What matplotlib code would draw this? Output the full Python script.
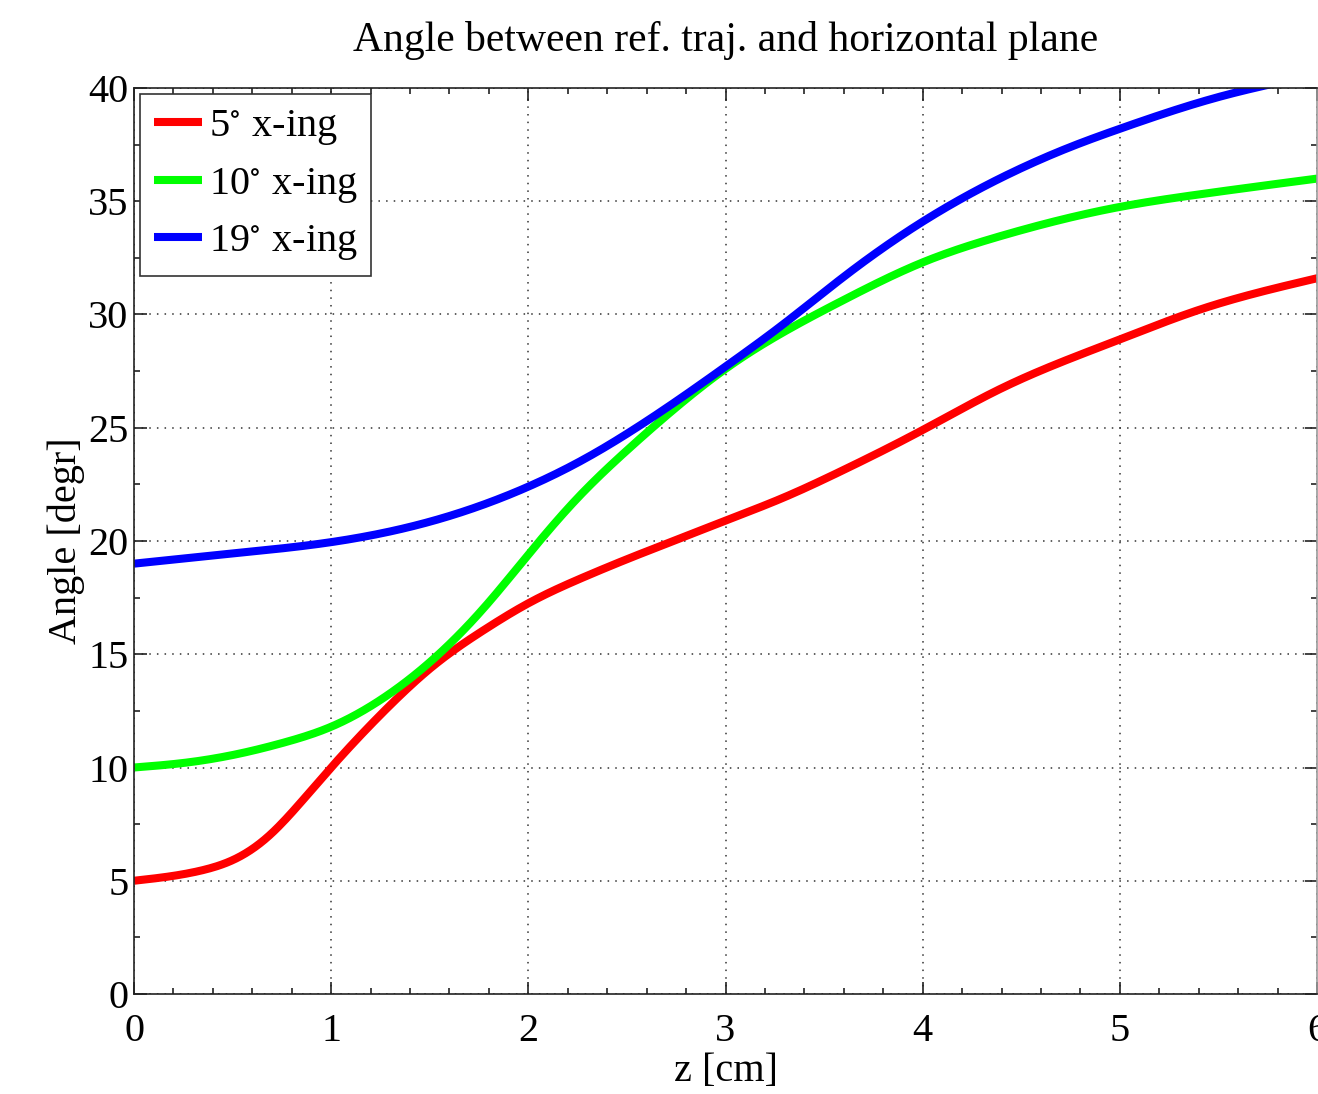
import numpy as np
import matplotlib
matplotlib.use("Agg")
import matplotlib.pyplot as plt
from matplotlib.ticker import MultipleLocator

plt.rcParams["font.family"] = ["Liberation Serif", "DejaVu Serif"]
plt.rcParams["mathtext.fontset"] = "stix"

# Angle of the reference trajectory vs. z for three crossing angles
z_red = [0, 0.34, 0.51, 0.68, 0.85, 1.0, 1.27, 1.52, 1.78, 2.0, 2.28, 2.53, 2.78, 3.0,
         3.29, 3.59, 4.0, 4.39, 5.0, 5.4, 6.0]
a_red = [5.0, 5.45, 5.95, 6.95, 8.5, 10.0, 12.5, 14.5, 16.1, 17.25, 18.4, 19.3, 20.15, 20.9,
         21.9, 23.1, 24.9, 26.7, 28.9, 30.2, 31.6]

z_green = [0, 0.25, 0.5, 0.76, 1.0, 1.27, 1.52, 1.78, 2.0, 2.25, 2.5, 2.75, 3.0,
           3.29, 3.59, 4.0, 4.39, 5.0, 5.4, 6.0]
a_green = [10.0, 10.2, 10.55, 11.1, 11.8, 13.1, 14.8, 17.1, 19.4, 21.9, 24.0, 25.9, 27.6,
           29.2, 30.6, 32.3, 33.45, 34.75, 35.3, 36.0]

z_blue = [0, 0.5, 1.0, 1.52, 2.0, 2.28, 2.53, 2.78, 3.0, 3.29, 3.59,
          4.0, 4.39, 4.78, 5.0, 5.5, 6.0]
a_blue = [19.0, 19.45, 19.95, 20.9, 22.4, 23.6, 24.9, 26.35, 27.7, 29.55, 31.6,
          34.1, 36.0, 37.5, 38.2, 39.6, 40.6]

labels = [r"5$^{\circ}$ x-ing", r"10$^{\circ}$ x-ing", r"19$^{\circ}$ x-ing"]
colors = ["#ff0000", "#00ff00", "#0000ff"]


def spline(zs, vs, n=500):
    """Natural cubic spline through (zs, vs), sampled on n points."""
    x = np.asarray(zs, float)
    y = np.asarray(vs, float)
    npt = len(x)
    h = np.diff(x)
    A = np.zeros((npt, npt))
    b = np.zeros(npt)
    A[0, 0] = A[-1, -1] = 1.0
    for i in range(1, npt - 1):
        A[i, i - 1] = h[i - 1]
        A[i, i] = 2 * (h[i - 1] + h[i])
        A[i, i + 1] = h[i]
        b[i] = 3 * ((y[i + 1] - y[i]) / h[i] - (y[i] - y[i - 1]) / h[i - 1])
    c = np.linalg.solve(A, b)
    bb = (y[1:] - y[:-1]) / h - h * (2 * c[:-1] + c[1:]) / 3
    d = (c[1:] - c[:-1]) / (3 * h)
    zz = np.linspace(x[0], x[-1], n)
    idx = np.clip(np.searchsorted(x, zz) - 1, 0, npt - 2)
    t = zz - x[idx]
    yy = y[idx] + bb[idx] * t + c[idx] * t**2 + d[idx] * t**3
    return zz, yy


fig = plt.figure(figsize=(13.18, 10.94), dpi=100)
ax = fig.add_axes([134 / 1318, 1 - 994 / 1094, (1317 - 134) / 1318, (994 - 88) / 1094])

for (zs, vs), lab, col in zip([(z_red, a_red), (z_green, a_green), (z_blue, a_blue)],
                              labels, colors):
    zz, yy = spline(zs, vs)
    ax.plot(zz, yy, color=col, lw=5.8, label=lab, solid_capstyle="butt")

ax.set_xlim(0, 6)
ax.set_ylim(0, 40)
ax.xaxis.set_major_locator(MultipleLocator(1))
ax.xaxis.set_minor_locator(MultipleLocator(0.2))
ax.yaxis.set_major_locator(MultipleLocator(5))
ax.yaxis.set_minor_locator(MultipleLocator(2.5))
ax.tick_params(which="both", direction="in", top=True, right=True, labelsize=29,
               color="#222222", width=1.2)
ax.tick_params(which="major", length=9)
ax.tick_params(axis="x", which="major", pad=14)
ax.tick_params(axis="y", which="major", pad=4)
ax.tick_params(which="minor", length=4.5)
ax.grid(True, which="major", linestyle=(0, (1, 4)), color="#333333", linewidth=1.1)
for s in ax.spines.values():
    s.set_linewidth(1.2)
    s.set_color("#222222")
ax.spines["right"].set_color("#999999")

ax.set_title("Angle between ref. traj. and horizontal plane", fontsize=30, pad=27)
ax.set_xlabel("z [cm]", fontsize=29, labelpad=2)
ax.set_ylabel("Angle [degr]", fontsize=29, labelpad=2)

leg = ax.legend(loc="upper left", fontsize=29, fancybox=False, framealpha=1,
                edgecolor="#333333", borderaxespad=0.15, handlelength=1.2,
                handletextpad=0.15, labelspacing=0.45, borderpad=0.35)
leg.get_frame().set_linewidth(1.2)

fig.savefig("out.png", dpi=100)
